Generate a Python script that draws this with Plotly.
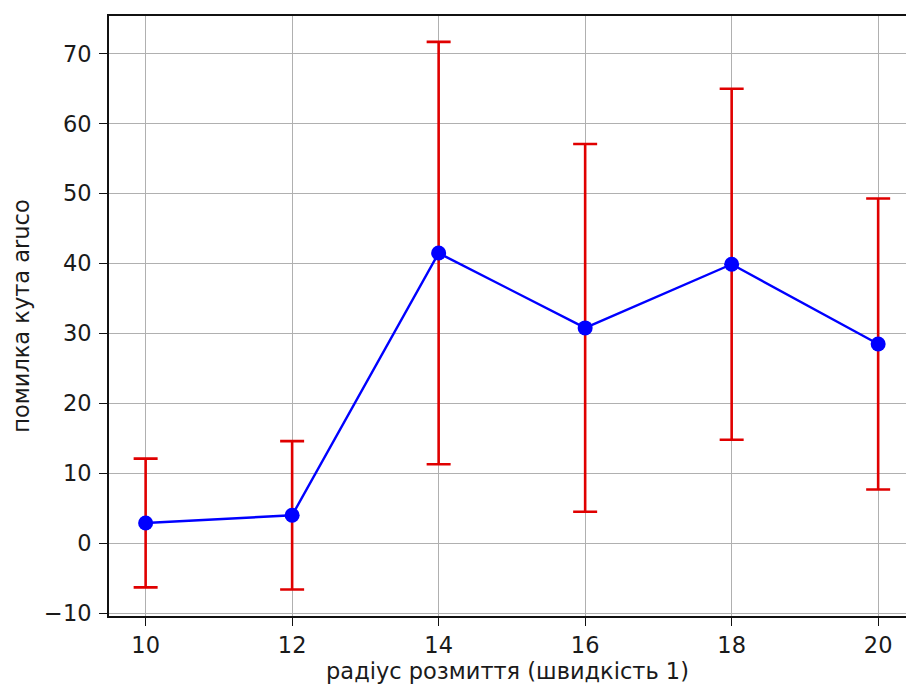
import plotly.graph_objects as go

# blur radius vs. aruco angle error (mean ± std)
radius = [10, 12, 14, 16, 18, 20]
mean_err = [2.9, 4.0, 41.5, 30.8, 39.9, 28.5]
std_err = [9.2, 10.6, 30.2, 26.3, 25.1, 20.8]

y_ticks = [-10, 0, 10, 20, 30, 40, 50, 60, 70]
x_ticks = [10, 12, 14, 16, 18, 20]

FONT = "DejaVu Sans"
TXT = "#1a1a1a"
FS = 22.5

fig = go.Figure()

# red error bars
fig.add_trace(go.Scatter(
    x=radius, y=mean_err, mode="markers",
    marker=dict(size=1, color="rgba(0,0,0,0)"),
    error_y=dict(type="data", array=std_err, visible=True,
                 color="#e00000", thickness=2.6, width=12),
    showlegend=False, hoverinfo="skip",
))

# mean values
fig.add_trace(go.Scatter(
    x=radius, y=mean_err, mode="lines+markers",
    line=dict(color="#0000ff", width=2.4),
    marker=dict(size=15, color="#0000ff"),
    showlegend=False,
))

axis_common = dict(
    showgrid=True, gridcolor="#b0b0b0", gridwidth=1.3,
    showline=True, linecolor="#111111", linewidth=1.8,
    ticks="outside", ticklen=8, tickwidth=1.4, tickcolor="#111111",
    tickfont=dict(family=FONT, size=FS, color=TXT),
    zeroline=False,
)

fig.update_xaxes(
    range=[9.5, 20.38], tickvals=x_ticks, mirror=True,
    title=dict(text="радіус розмиття (швидкість 1)",
               font=dict(family=FONT, size=FS, color=TXT), standoff=6),
    **axis_common,
)
fig.update_yaxes(
    range=[-10.4, 75.4], tickvals=y_ticks,
    tickformat="d", ticklabelstandoff=3,
    title=dict(text="помилка кута aruco",
               font=dict(family=FONT, size=FS, color=TXT), standoff=8),
    **axis_common,
)

fig.update_layout(
    width=906, height=686,
    margin=dict(l=109, r=0, t=16, b=70),
    paper_bgcolor="white", plot_bgcolor="white",
    font=dict(family=FONT, color=TXT),
)

fig.write_html("out.html")
